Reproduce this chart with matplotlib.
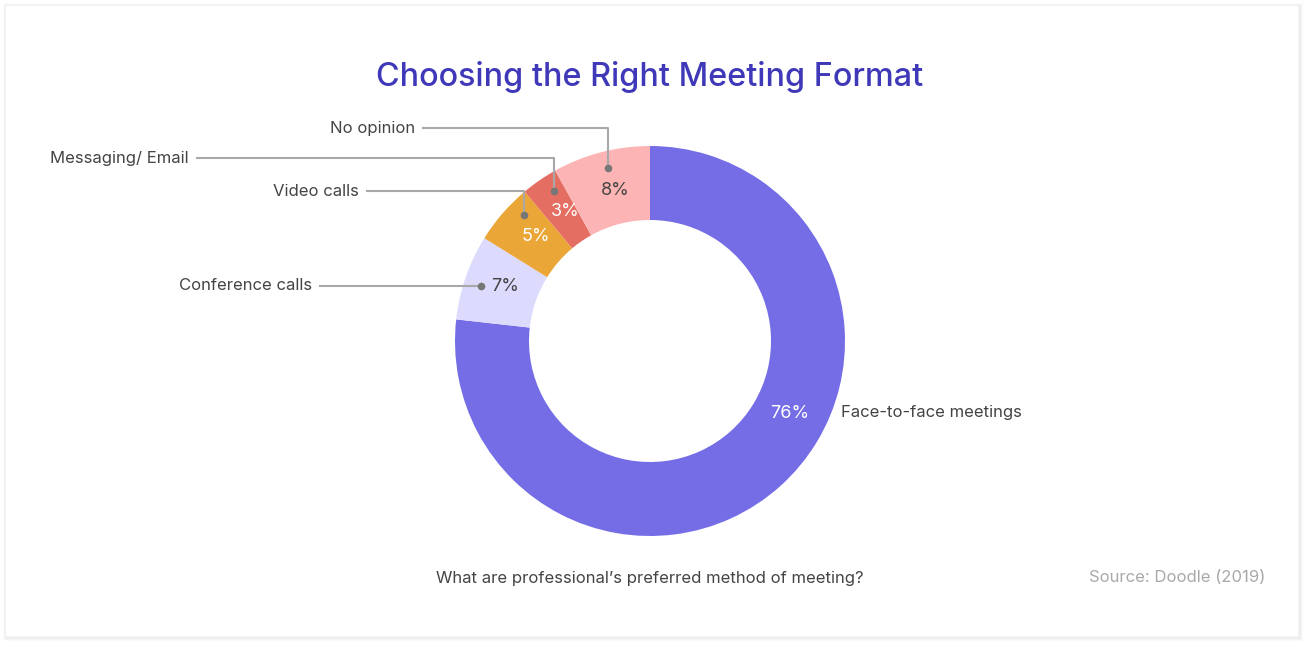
import numpy as np
import matplotlib
matplotlib.use("Agg")
import matplotlib.pyplot as plt
from matplotlib.patches import Rectangle

plt.rcParams['font.family'] = ['Inter', 'DejaVu Sans']

# data
labels = ['Face-to-face meetings', 'Conference calls', 'Video calls',
          'Messaging/ Email', 'No opinion']
values = [76, 7, 5, 3, 8]
colors = ['#756DE6', '#DCDAFD', '#EBA638', '#E46E62', '#FDB4B4']
pct_colors = ['white', '#444444', 'white', 'white', '#444444']

title = 'Choosing the Right Meeting Format'
subtitle = "What are professional\u2019s preferred method of meeting?"
source = 'Source: Doodle (2019)'

# layout (pixel space, y up)
W, H = 1310, 650
cx, cy = 650, 650 - 341
R_OUT, R_IN = 195, 121
# callout rows for the small slices: label -> (text row y, line start x, angle nudge)
callouts = {
    'Conference calls': (650 - 285, 320, 1),
    'Video calls': (650 - 191, 367, -4),
    'Messaging/ Email': (650 - 158, 197, -2),
    'No opinion': (650 - 128, 423, -1),
}
BIG_ROW = 650 - 413   # row of the big slice label
TXT = '#444444'

fig = plt.figure(figsize=(W / 100, H / 100), dpi=100)
ax = fig.add_axes([0, 0, 1, 1])

# card with soft shadow
for i, a in enumerate([0.05, 0.04, 0.03, 0.02]):
    ax.add_patch(Rectangle((6 - i + 1, 650 - 636 - i - 1), 1292 + 2 * i, 630 + 2 * i,
                           facecolor='none', edgecolor='black', lw=1.2, alpha=a, zorder=0))
ax.add_patch(Rectangle((6, 650 - 636), 1292, 630, facecolor='white', edgecolor='none', zorder=0.5))

wedges, _ = ax.pie(values, colors=colors, startangle=90, counterclock=False,
                   radius=R_OUT, center=(cx, cy),
                   wedgeprops=dict(width=R_OUT - R_IN, edgecolor='none'), frame=True)
ax.set_xlim(0, W)
ax.set_ylim(0, H)
ax.set_aspect('equal')
ax.axis('off')

r_mid = 155
for w, lab, v, pc in zip(wedges, labels, values, pct_colors):
    mid = (w.theta1 + w.theta2) / 2
    if lab in callouts:
        ang = np.deg2rad(mid - 1.5)
        px, py = cx + r_mid * np.cos(ang), cy + r_mid * np.sin(ang)
        ax.text(px, py, f'{v}%', ha='center', va='center', color=pc, fontsize=13, zorder=5)
        ty, lx, nudge = callouts[lab]
        a2 = np.deg2rad(mid + nudge)
        dx, dy = cx + 178 * np.cos(a2), cy + 178 * np.sin(a2)
        if abs(ty - dy) < 3:
            ax.plot([lx, dx], [dy, dy], color='#A8A8A8', lw=1.5, zorder=4)
            ty = dy
        else:
            ax.plot([lx, dx, dx], [ty, ty, dy], color='#A8A8A8', lw=1.5, zorder=4)
        ax.plot(dx, dy, 'o', color='#777777', ms=4.5, zorder=6)
        ax.text(lx - 8, ty, lab, ha='right', va='center', color=TXT, fontsize=12)
    else:
        # big slice: percentage sits in the ring on the same row as its label
        off = cy - BIG_ROW
        xi = np.sqrt(R_IN ** 2 - off ** 2)
        xo = np.sqrt(R_OUT ** 2 - off ** 2)
        ax.text(cx + (xi + xo) / 2, BIG_ROW, f'{v}%', ha='center', va='center',
                color=pc, fontsize=13, zorder=5)
        ax.text(841, BIG_ROW, lab, ha='left', va='center', color=TXT, fontsize=12)

ax.text(650, 650 - 77, title, ha='center', va='center', color='#3F38B8',
        fontsize=23.3, fontweight='medium')
ax.text(650, 650 - 578, subtitle, ha='center', va='center', color=TXT, fontsize=12)
ax.text(1265, 650 - 578, source, ha='right', va='center', color='#A9A9A9', fontsize=12)

fig.savefig('out.png', dpi=100, facecolor='white')
